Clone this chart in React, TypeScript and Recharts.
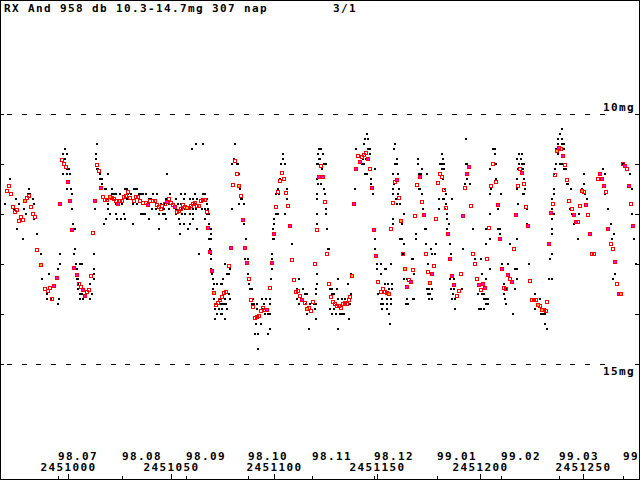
import React from 'react';
import { ScatterChart, Scatter, XAxis, YAxis, ReferenceLine } from 'recharts';

// days are counted from JD 2451000, magnitudes are visual
const JD0 = 2451000;
const X_MIN = -32.86;
const X_MAX = 277.82;
const MAG_TOP = 7.72;
const MAG_BOTTOM = 17.32;
const DASH_END = 261.3;

const JD_TICKS = [0, 50, 100, 150, 200, 250];
const MONTH_TICKS = [-4.5, 26.5, 57.5, 87.5, 118.5, 148.5, 179.5, 210.5, 238.5, 269.5];
const MONTH_LABELS = ['98.07', '98.08', '98.09', '98.10', '98.11', '98.12', '99.01', '99.02', '99.03', '99.04'];
const MAG_TICKS = [10, 11, 12, 13, 14, 15];

const TITLE = 'RX And 958 db 10.3-14.7mg 307 nap';
const PAGE = '3/1';

// single observations (black dots)
const observations: [number, number][] = [
  [-30.6, 11.8], [-28.0, 11.3], [-26.1, 11.9], [-25.1, 11.7], [-24.6, 12.3], [-23.6, 11.8], [-21.7, 12.5], [-21.2, 11.9],
  [-20.2, 12.0], [-18.8, 11.5], [-19.3, 11.6], [-18.3, 11.6], [-16.9, 11.7], [-16.4, 11.8], [-16.4, 12.1], [-14.9, 12.4],
  [-13.0, 12.8], [-12.5, 13.3], [-10.0, 13.6], [-10.0, 13.7], [-9.1, 13.2], [-8.1, 13.7], [-4.7, 13.8], [-4.2, 13.7],
  [-3.7, 12.8], [-3.7, 13.0], [-4.7, 13.1], [-1.3, 10.7], [-2.3, 10.8], [-0.3, 10.8], [-1.3, 10.9], [-0.3, 11.1],
  [0.6, 11.1], [-2.3, 11.2], [-0.3, 11.2], [1.1, 11.2], [-0.3, 11.5], [1.6, 11.5], [2.1, 11.6], [2.1, 11.9],
  [2.6, 12.2], [3.5, 12.3], [3.5, 12.7], [3.1, 12.8], [4.0, 13.0], [6.0, 13.0], [6.9, 13.0], [4.5, 13.1],
  [4.5, 13.3], [5.0, 13.3], [5.0, 13.4], [5.0, 13.5], [6.0, 13.6], [6.9, 13.6], [6.0, 13.7], [7.4, 13.7],
  [10.8, 13.4], [11.8, 13.6], [10.8, 13.7], [12.8, 13.3], [12.8, 13.2], [12.8, 13.1], [12.8, 12.8], [14.2, 10.6],
  [13.7, 10.8], [13.7, 10.9], [14.2, 11.1], [14.7, 11.1], [15.7, 11.2], [15.7, 11.3], [16.7, 11.3], [16.7, 11.4],
  [19.6, 11.2], [18.1, 11.5], [18.6, 11.5], [13.3, 11.9], [19.6, 11.7], [19.6, 11.8], [19.6, 11.9], [20.5, 12.0],
  [18.6, 12.1], [17.6, 12.2], [21.5, 11.5], [21.5, 11.6], [22.5, 11.6], [23.4, 11.6], [25.4, 11.6], [27.8, 11.5],
  [28.8, 11.5], [29.3, 11.6], [30.7, 11.6], [32.2, 11.5], [33.2, 11.5], [33.6, 11.5], [34.6, 11.6], [35.6, 11.6],
  [36.6, 11.6], [38.0, 11.6], [39.5, 11.7], [40.4, 11.7], [41.4, 11.6], [43.4, 11.6], [23.4, 11.8], [26.4, 11.8],
  [28.8, 11.7], [31.7, 11.8], [33.6, 11.8], [40.9, 11.9], [42.9, 11.9], [23.4, 12.0], [27.3, 12.0], [35.6, 12.0],
  [36.6, 12.0], [37.5, 12.0], [44.3, 12.0], [23.9, 12.1], [25.9, 12.1], [27.8, 12.1], [39.5, 12.1], [31.7, 12.2],
  [44.3, 12.3],
  [62.3, 10.6], [65.7, 10.6], [60.3, 10.7], [81.2, 10.6], [48.2, 11.2], [49.7, 11.6], [55.0, 11.6], [56.9, 11.6],
  [61.8, 11.6], [65.7, 11.6], [66.7, 11.6], [47.7, 11.7], [52.6, 11.7], [56.5, 11.7], [59.4, 11.7], [60.8, 11.7],
  [62.8, 11.7], [65.2, 11.7], [67.6, 11.7], [45.3, 11.8], [46.8, 11.8], [49.2, 11.8], [53.6, 11.8], [55.0, 11.8],
  [61.8, 11.8], [67.6, 11.8], [46.8, 11.9], [49.2, 11.9], [52.6, 11.9], [55.5, 11.9], [56.9, 11.9], [59.4, 11.9],
  [60.8, 11.9], [62.3, 11.9], [65.2, 11.9], [66.7, 11.9], [68.1, 11.9], [46.3, 12.0], [47.2, 12.0], [52.6, 12.0],
  [55.5, 12.0], [56.9, 12.0], [59.4, 12.0], [60.8, 12.0], [67.6, 12.0], [68.6, 12.0], [47.7, 12.1], [54.0, 12.1],
  [60.8, 12.1], [66.7, 12.1], [54.5, 12.2], [56.5, 12.2], [59.4, 12.2], [68.6, 12.2], [58.4, 12.3], [62.8, 12.3],
  [69.6, 12.3], [54.5, 12.4], [69.6, 12.4], [68.6, 12.5], [69.6, 12.5], [63.7, 12.8], [69.1, 12.7], [69.6, 12.8],
  [69.6, 12.9], [69.6, 13.1], [70.0, 13.2], [70.5, 13.3], [75.4, 13.3], [71.0, 13.4], [72.5, 13.4], [74.4, 13.4],
  [74.9, 13.4], [70.5, 13.5], [76.4, 13.6], [78.3, 13.6], [71.0, 13.7], [73.9, 13.7], [76.4, 13.7], [78.8, 13.7],
  [72.0, 13.8], [73.9, 13.8], [74.9, 13.8], [75.9, 13.8], [76.9, 13.8], [71.5, 13.9], [73.4, 13.9], [74.9, 13.9],
  [77.4, 13.9], [72.5, 14.0], [74.4, 14.0], [74.9, 14.0], [71.5, 14.1], [76.4, 14.1], [76.4, 13.0], [77.4, 13.2],
  [78.3, 13.2], [78.8, 13.1],
  [80.7, 10.9], [79.8, 11.0], [82.2, 11.0], [82.7, 11.0], [83.2, 11.2], [83.7, 11.5], [84.1, 11.7], [84.6, 11.7],
  [83.2, 11.8], [85.6, 11.8], [79.8, 11.9], [85.6, 12.2], [86.6, 12.5], [86.1, 12.9], [87.5, 12.9], [87.5, 13.2],
  [88.0, 13.4], [88.5, 13.5], [89.5, 13.5], [90.0, 13.7], [89.5, 13.8], [90.4, 13.8], [91.9, 13.8], [94.3, 13.7],
  [96.3, 13.7], [98.2, 13.7], [91.9, 13.9], [94.3, 13.9], [95.3, 13.8], [98.2, 13.8], [95.8, 14.0], [97.2, 14.0],
  [98.2, 14.0], [91.4, 14.2], [93.9, 14.2], [98.2, 14.3], [90.9, 14.4], [92.4, 14.4], [97.2, 14.4], [92.4, 14.7],
  [104.5, 10.8], [104.5, 10.9], [103.5, 11.0], [105.5, 11.0], [103.1, 11.3], [102.1, 11.5], [106.4, 11.5], [101.1, 11.6],
  [102.6, 11.6], [106.4, 11.7], [101.1, 12.0], [102.1, 12.0], [105.5, 12.0], [100.1, 12.1], [100.1, 12.2], [99.7, 12.3],
  [99.7, 12.5], [100.1, 12.5], [99.2, 12.8], [99.2, 12.9], [99.2, 13.1], [98.7, 13.3], [108.9, 12.6],
  [122.0, 10.7], [121.5, 10.8], [122.0, 10.9], [121.0, 11.0], [121.5, 11.0], [121.0, 11.3], [121.5, 11.4], [121.0, 11.6],
  [121.0, 11.7], [121.0, 12.0], [121.0, 12.2], [112.3, 13.3], [111.3, 13.5], [114.2, 13.5], [115.2, 13.6], [116.2, 13.6],
  [111.3, 13.7], [112.3, 13.8], [116.2, 14.0], [120.5, 14.1], [120.0, 13.9], [119.6, 13.8], [120.5, 13.8], [120.5, 13.6],
  [120.5, 13.5], [121.0, 13.4], [121.0, 13.2], [117.1, 14.3], [115.7, 13.8], [117.6, 13.8],
  [145.3, 10.4], [144.3, 10.5], [145.8, 10.5], [143.8, 10.6], [145.8, 10.7], [146.7, 10.7], [140.0, 10.7], [146.7, 10.8],
  [143.4, 10.9], [144.8, 10.9], [143.8, 11.0], [142.9, 11.0], [144.3, 11.2], [145.3, 11.2], [147.2, 11.3], [149.2, 11.1],
  [147.2, 11.4], [148.2, 11.6], [139.5, 11.5], [123.0, 10.7], [123.9, 10.8], [122.5, 10.9], [124.4, 11.0], [125.4, 11.0],
  [123.4, 11.1], [123.0, 11.4], [124.4, 11.5], [124.9, 11.6], [125.4, 11.9], [125.4, 12.0], [125.9, 12.3], [126.4, 12.7],
  [126.8, 12.7], [131.2, 13.3], [127.3, 13.5], [128.3, 13.5], [130.7, 13.5], [128.3, 13.6], [129.3, 13.6], [131.2, 13.7],
  [133.2, 13.7], [134.6, 13.7], [137.5, 13.6], [136.1, 13.4], [137.5, 13.2], [127.3, 13.9], [129.3, 13.9], [128.3, 14.0],
  [130.2, 14.0], [132.2, 14.0], [133.2, 14.0], [134.1, 14.0], [136.6, 14.1], [131.2, 14.3], [137.0, 13.8],
  [158.9, 10.6], [158.4, 10.7], [159.9, 10.9], [158.9, 11.0], [159.9, 11.0], [157.9, 11.2], [160.4, 11.2], [158.4, 11.4],
  [157.9, 11.5], [160.8, 11.5], [157.9, 11.6], [160.4, 11.6], [159.4, 11.7], [159.9, 11.8], [161.3, 11.8], [163.3, 12.0],
  [157.9, 12.1], [157.9, 12.2], [162.3, 12.2], [149.2, 12.5], [149.2, 12.7], [150.1, 13.0], [152.1, 13.0], [150.1, 13.1],
  [154.0, 13.1], [154.5, 13.1], [157.0, 13.0], [152.1, 13.2], [154.0, 13.4], [155.5, 13.4], [157.4, 13.4], [156.0, 13.5],
  [157.4, 13.5], [150.6, 13.6], [152.6, 13.7], [155.0, 13.7], [157.0, 13.7], [152.1, 13.8], [153.1, 13.8], [155.0, 13.8],
  [157.0, 13.8], [152.6, 13.9], [155.0, 13.9], [156.0, 14.0], [156.5, 14.2], [161.3, 12.5], [162.3, 12.5], [163.3, 12.6],
  [162.8, 12.8], [167.1, 12.9], [167.6, 12.9], [163.3, 13.3], [164.7, 13.3], [164.2, 13.8], [165.2, 13.8], [164.7, 13.7],
  [167.6, 13.7], [168.1, 13.7], [168.1, 13.2], [169.1, 12.4], [169.1, 12.5], [170.0, 10.9], [170.0, 11.0], [170.5, 11.2],
  [171.5, 11.2], [172.0, 11.1], [174.4, 11.2], [170.5, 11.5], [171.0, 11.5], [172.0, 11.6], [172.5, 11.9], [173.4, 12.3],
  [173.9, 12.3], [173.9, 12.6], [174.9, 13.0], [174.4, 13.5], [175.4, 13.5], [174.9, 13.6], [175.9, 13.6], [175.4, 13.7],
  [176.8, 13.7], [176.4, 12.7], [176.8, 12.8], [178.8, 12.6], [178.3, 12.8], [176.8, 13.5],
  [181.7, 10.8], [182.2, 10.9], [180.7, 11.0], [181.7, 11.0], [182.7, 11.0], [181.7, 11.1], [182.7, 11.1], [182.2, 11.3],
  [183.2, 11.5], [183.6, 11.6], [182.7, 11.7], [180.2, 11.7], [182.2, 11.7], [183.6, 11.8], [183.2, 11.9], [180.2, 11.9],
  [184.1, 12.0], [184.1, 12.1], [185.1, 12.2], [184.1, 12.3], [185.6, 12.6], [186.1, 12.8], [185.6, 13.3], [187.5, 13.3],
  [186.1, 13.5], [187.5, 13.5], [187.0, 13.6], [188.0, 13.7], [186.6, 13.7], [188.0, 13.9], [186.6, 11.7], [196.8, 12.3],
  [197.7, 12.9], [199.2, 13.6], [199.7, 13.9], [191.4, 13.5], [193.4, 10.5], [193.4, 11.0], [193.8, 11.0], [193.8, 11.3],
  [192.9, 11.4], [195.3, 11.4], [191.9, 12.7],
  [240.0, 10.3], [239.0, 10.4], [238.0, 10.5], [240.0, 10.5], [238.0, 10.6], [240.0, 10.6], [240.9, 10.6], [239.0, 10.7],
  [237.0, 10.7], [240.9, 10.7], [238.0, 10.8], [239.0, 11.0], [240.0, 11.0], [237.0, 11.0], [236.6, 11.1], [240.9, 11.1],
  [241.9, 11.1], [236.1, 11.2], [242.4, 11.4], [242.9, 11.4], [236.1, 11.5], [244.3, 11.5], [236.1, 11.6], [235.1, 11.7],
  [235.1, 11.9], [236.1, 12.0], [235.1, 12.1], [235.1, 12.3], [235.1, 12.4], [235.1, 12.8], [234.1, 12.9], [233.6, 13.3],
  [235.1, 13.3], [243.8, 11.9], [244.8, 12.0], [245.8, 12.2], [247.7, 12.5], [248.2, 12.0], [249.7, 11.5], [250.6, 11.4],
  [251.1, 11.6], [252.1, 11.7], [250.6, 11.2], [226.8, 13.6], [226.8, 13.9], [229.3, 13.7], [229.8, 14.0], [230.7, 14.0],
  [231.7, 14.0], [231.7, 14.2], [232.7, 14.3], [223.9, 13.0], [223.0, 12.2],
  [219.1, 10.8], [220.5, 10.8], [218.1, 10.9], [220.0, 10.9], [219.1, 11.0], [220.5, 11.0], [221.5, 11.0], [218.6, 11.1],
  [221.0, 11.1], [218.1, 11.3], [221.5, 11.3], [218.1, 11.5], [222.0, 11.5], [221.0, 11.6], [221.5, 11.6], [218.6, 11.8],
  [223.0, 11.9], [218.1, 12.5], [214.7, 12.6], [217.1, 13.1], [218.1, 13.1], [218.1, 13.3], [217.1, 13.5], [211.8, 13.4],
  [212.8, 13.5], [211.8, 13.6], [212.3, 13.7], [212.8, 13.8], [210.9, 13.0], [213.8, 13.0], [216.2, 14.0],
  [206.5, 10.7], [207.4, 10.7], [207.4, 10.8], [207.9, 11.0], [205.0, 11.1], [207.9, 11.3], [205.5, 11.5], [205.0, 11.6],
  [210.4, 11.6], [208.9, 11.9], [205.0, 12.0], [203.1, 12.3], [208.9, 12.3], [209.9, 12.3], [209.9, 12.4], [205.0, 12.5],
  [209.4, 12.5], [203.1, 12.6], [200.6, 12.9], [205.0, 13.1], [201.1, 13.2], [203.1, 13.3], [201.1, 13.6], [202.1, 13.6],
  [202.1, 13.7], [203.1, 13.7], [204.0, 13.7], [203.1, 13.8], [204.0, 13.8], [200.6, 13.9], [202.1, 13.9],
  [259.9, 11.1], [260.8, 11.2], [260.8, 11.6], [262.3, 11.9], [263.8, 12.2], [265.2, 12.4], [264.2, 12.5], [265.7, 13.2],
  [264.7, 13.3], [273.0, 11.2], [273.9, 11.5], [273.9, 12.0], [274.9, 12.5], [275.9, 13.0], [269.6, 11.0],
];

// nightly means, plain red boxes
const redMeans: [number, number][] = [
  [-28.5, 11.44], [-29.5, 11.54], [-27.5, 11.6], [-26.6, 11.86], [-24.6, 11.92], [-25.6, 11.96], [-22.7, 12.06], [-23.6, 12.14],
  [-21.7, 12.12], [-19.8, 11.68], [-18.8, 11.64], [-17.8, 11.86], [-16.9, 12.0], [-15.9, 12.06], [-14.9, 12.72], [-11.0, 13.5],
  [-9.6, 13.54], [-8.6, 13.48], [-7.6, 13.7], [-2.8, 10.92], [-1.8, 11.0], [-0.8, 11.06], [5.5, 13.4], [6.5, 13.46],
  [9.4, 13.56], [10.3, 13.52], [11.3, 13.24], [14.2, 11.02], [15.2, 11.14], [12.3, 12.38], [17.1, 11.66], [18.1, 11.72],
  [19.1, 11.72], [21.5, 11.68], [22.5, 11.7], [23.4, 11.74], [25.4, 11.74], [26.4, 11.74], [27.3, 11.66], [28.3, 11.64],
  [29.3, 11.56], [30.2, 11.68], [32.2, 11.74], [33.2, 11.66], [34.1, 11.66], [35.1, 11.74], [36.6, 11.78], [38.0, 11.78],
  [40.0, 11.74], [41.4, 11.74], [42.4, 11.74], [43.4, 11.82], [44.3, 11.86],
  [45.8, 11.84], [45.3, 11.9], [47.2, 11.8], [49.2, 11.7], [50.1, 11.78], [51.1, 11.82], [53.1, 11.96], [54.0, 11.94],
  [55.0, 11.9], [56.0, 11.82], [56.9, 11.86], [58.9, 11.88], [59.9, 11.84], [60.8, 11.8], [61.8, 11.78], [62.8, 11.84],
  [63.7, 11.84], [64.7, 11.74], [65.7, 11.72], [66.7, 11.72], [67.6, 11.96], [73.0, 13.78], [73.9, 13.72], [74.9, 13.66],
  [75.9, 13.58], [76.9, 13.56], [72.0, 13.82], [78.3, 13.04], [80.3, 11.42], [81.2, 10.94], [82.2, 11.2], [84.1, 11.64],
  [88.0, 13.3], [89.0, 13.72], [90.0, 13.86], [90.9, 14.08], [91.9, 14.06], [92.9, 14.04], [93.9, 13.94], [94.8, 13.88],
  [95.8, 13.92], [98.2, 13.48], [101.1, 11.86], [102.1, 11.56], [103.1, 11.34], [104.0, 11.18], [105.0, 11.3], [106.0, 11.58],
  [106.9, 11.84], [108.9, 12.92], [109.9, 13.32], [110.8, 13.56], [111.8, 13.54], [112.8, 13.64], [115.2, 13.78], [117.1, 13.88],
  [118.1, 13.94], [119.1, 13.76], [120.0, 13.0], [121.0, 12.32],
  [140.9, 10.84], [142.9, 10.86], [143.8, 10.82], [144.8, 10.78], [146.7, 11.1], [150.6, 13.36], [153.1, 13.5], [152.1, 13.56],
  [154.0, 13.56], [155.0, 13.58], [126.8, 13.4], [127.8, 13.66], [128.8, 13.76], [129.8, 13.8], [130.7, 13.84], [131.7, 13.84],
  [132.7, 13.88], [133.6, 13.8], [134.6, 13.78], [135.6, 13.8], [136.6, 13.72], [137.0, 13.66], [125.9, 12.8], [124.9, 11.76],
  [123.0, 11.04], [157.9, 11.78], [158.9, 11.36], [160.8, 11.68], [157.0, 12.3], [162.8, 12.8], [165.7, 13.32], [167.6, 13.12],
  [168.6, 12.04], [169.6, 11.42], [172.0, 11.76], [173.9, 12.8], [174.9, 13.16], [177.8, 13.04], [178.8, 12.1], [179.8, 11.38],
  [180.7, 11.2], [181.7, 11.26], [182.7, 11.52], [183.6, 11.88], [189.0, 13.64], [190.0, 13.54], [190.9, 13.2], [192.9, 11.48],
  [195.8, 11.84], [196.8, 12.8], [197.7, 13.0], [198.7, 13.3],
  [206.5, 11.0], [205.5, 11.44], [207.9, 11.36], [204.5, 12.28], [216.6, 12.7], [203.5, 12.9], [214.7, 13.3], [211.8, 13.48],
  [212.8, 13.5], [200.6, 13.52], [219.6, 11.1], [221.5, 11.4], [218.6, 11.44], [222.5, 11.86], [224.4, 13.34], [225.4, 13.72],
  [226.3, 13.72], [227.3, 13.72], [229.3, 13.84], [231.2, 13.92], [232.2, 13.94], [232.7, 13.76], [235.6, 11.8], [236.6, 11.22],
  [239.5, 10.7], [241.4, 11.02], [242.4, 11.32], [243.4, 11.74], [244.8, 11.9], [247.7, 12.16], [248.7, 11.84], [250.6, 11.56],
  [252.6, 12.02], [254.5, 12.8], [255.5, 12.8], [257.4, 11.3], [261.3, 11.56], [263.8, 12.6], [264.7, 12.7], [266.7, 13.4],
  [269.6, 11.0], [271.5, 11.1], [273.4, 11.8],
];

// nightly means with magenta centre
const magentaMeans: [number, number][] = [
  [-6.7, 13.44], [-5.2, 13.28], [0.1, 11.36], [-3.7, 11.8], [1.1, 11.74], [2.1, 12.32], [3.1, 13.08], [4.5, 13.22],
  [7.4, 13.52], [8.4, 13.64], [16.2, 11.48], [13.3, 11.74], [24.4, 11.8], [39.0, 11.82], [48.2, 11.76], [52.1, 11.86],
  [68.1, 12.28], [69.1, 12.76], [70.0, 13.14], [79.3, 12.68], [85.1, 12.12], [86.1, 12.68], [87.1, 12.98], [96.8, 13.92],
  [99.2, 12.98], [100.1, 12.4], [107.9, 12.24], [113.7, 13.72], [122.0, 11.26], [145.8, 10.9], [141.9, 10.96], [140.0, 11.1],
  [147.7, 11.48], [139.0, 11.8], [148.7, 12.32], [149.7, 12.84], [123.9, 11.26], [159.9, 11.32], [164.7, 13.46], [166.7, 13.36],
  [171.0, 11.26], [173.0, 12.02], [176.8, 13.2], [184.6, 12.4], [185.6, 12.9], [186.6, 13.24], [187.5, 13.42], [191.9, 12.04],
  [193.8, 11.2], [194.8, 11.06], [199.7, 13.42], [208.9, 11.82], [209.9, 12.5], [210.9, 13.1], [213.8, 13.22], [215.7, 13.36],
  [202.6, 13.48], [201.6, 13.4], [220.5, 11.18], [217.6, 12.02], [223.4, 12.24], [233.6, 12.6], [234.6, 11.98], [238.5, 10.68],
  [240.4, 10.84], [245.8, 12.02], [246.7, 12.16], [251.6, 11.82], [253.5, 12.4], [258.4, 11.2], [259.4, 11.3], [260.3, 11.44],
  [262.3, 12.3], [265.7, 12.96], [267.6, 13.6], [270.5, 11.04], [272.5, 11.44], [274.4, 12.24],
];

// nightly means with orange centre
const orangeMeans: [number, number][] = [
  [-20.7, 11.74], [-13.0, 13.02], [20.5, 11.66], [57.9, 11.88], [71.0, 13.58], [83.2, 11.44], [116.2, 13.9], [156.0, 13.6],
  [138.0, 13.24], [161.8, 12.14], [163.8, 13.1], [175.9, 13.38], [228.3, 13.82], [230.2, 13.92], [237.5, 10.74], [249.7, 11.54],
  [268.6, 13.6],
];

const toRows = (list: [number, number][]) => list.map(([d, mag]) => ({ d, mag }));

const FONT: React.CSSProperties = {
  fontFamily: '"DejaVu Sans Mono", monospace',
  fontWeight: 700,
  fontSize: 11,
  letterSpacing: 1.38,
};

const Dot = (props: any) => {
  const { cx, cy } = props;
  if (cx == null || cy == null) return null;
  return <rect x={Math.round(cx) - 1} y={Math.round(cy) - 1} width={2} height={2} fill="#000" shapeRendering="crispEdges" />;
};

const makeBox = (fill: string) => (props: any) => {
  const { cx, cy } = props;
  if (cx == null || cy == null) return null;
  return (
    <rect
      x={Math.round(cx) - 1.5}
      y={Math.round(cy) - 1.5}
      width={3}
      height={3}
      fill={fill}
      stroke="#ff0000"
      strokeWidth={1}
      shapeRendering="crispEdges"
    />
  );
};

const JdTick = (props: any) => {
  const { x, payload } = props;
  const px = Math.round(x) + 0.5;
  return (
    <g>
      <line x1={px} x2={px} y1={474} y2={480} stroke="#000" shapeRendering="crispEdges" />
      <text x={x + 0.7} y={471} textAnchor="middle" fill="#000" style={FONT}>
        {String(JD0 + payload.value)}
      </text>
    </g>
  );
};

const MonthTick = (props: any) => {
  const { x, payload } = props;
  const px = Math.round(x) + 0.5;
  return (
    <g>
      <line x1={px} x2={px} y1={476} y2={480} stroke="#000" shapeRendering="crispEdges" />
      <text x={Math.round(x)} y={460} fill="#000" style={FONT}>
        {MONTH_LABELS[MONTH_TICKS.indexOf(payload.value)]}
      </text>
    </g>
  );
};

const LeftTick = (props: any) => {
  const py = Math.round(props.y) + 0.5;
  return <line x1={0} x2={4} y1={py} y2={py} stroke="#000" shapeRendering="crispEdges" />;
};

const RightTick = (props: any) => {
  const { y, payload } = props;
  const py = Math.round(y) + 0.5;
  return (
    <g>
      <line x1={635} x2={640} y1={py} y2={py} stroke="#000" shapeRendering="crispEdges" />
      {payload.value === 10 && (
        <text x={603} y={Math.round(y) - 3} fill="#000" style={FONT}>10mg</text>
      )}
      {payload.value === 15 && (
        <text x={603} y={Math.round(y) + 11} fill="#000" style={FONT}>15mg</text>
      )}
    </g>
  );
};

export default function App() {
  return (
    <div style={{ position: 'absolute', left: 0, top: 0, width: 640, height: 480, background: '#fff', overflow: 'hidden' }}>
      <ScatterChart width={640} height={480} margin={{ top: 0, right: 0, bottom: 0, left: 0 }}>
        <XAxis
          xAxisId="jd"
          type="number"
          dataKey="d"
          domain={[X_MIN, X_MAX]}
          allowDataOverflow
          mirror
          height={30}
          ticks={JD_TICKS}
          interval={0}
          axisLine={false}
          tickLine={false}
          tick={<JdTick />}
        />
        <XAxis
          xAxisId="month"
          type="number"
          dataKey="d"
          domain={[X_MIN, X_MAX]}
          allowDataOverflow
          mirror
          height={30}
          ticks={MONTH_TICKS}
          interval={0}
          axisLine={false}
          tickLine={false}
          tick={<MonthTick />}
        />
        <YAxis
          yAxisId="left"
          type="number"
          dataKey="mag"
          domain={[MAG_TOP, MAG_BOTTOM]}
          reversed
          allowDataOverflow
          mirror
          width={30}
          ticks={MAG_TICKS}
          interval={0}
          axisLine={false}
          tickLine={false}
          tick={<LeftTick />}
        />
        <YAxis
          yAxisId="right"
          orientation="right"
          type="number"
          dataKey="mag"
          domain={[MAG_TOP, MAG_BOTTOM]}
          reversed
          allowDataOverflow
          mirror
          width={30}
          ticks={MAG_TICKS}
          interval={0}
          axisLine={false}
          tickLine={false}
          tick={<RightTick />}
        />
        <ReferenceLine
          xAxisId="jd"
          yAxisId="left"
          segment={[{ x: X_MIN, y: 10 }, { x: DASH_END, y: 10 }]}
          stroke="#000"
          strokeDasharray="5 9.83"
          strokeDashoffset={8}
          shapeRendering="crispEdges"
        />
        <ReferenceLine
          xAxisId="jd"
          yAxisId="left"
          segment={[{ x: X_MIN, y: 15 }, { x: DASH_END, y: 15 }]}
          stroke="#000"
          strokeDasharray="5 9.83"
          strokeDashoffset={8}
          shapeRendering="crispEdges"
        />
        <Scatter xAxisId="jd" yAxisId="left" data={toRows(observations)} shape={Dot} isAnimationActive={false} />
        <Scatter xAxisId="jd" yAxisId="left" data={toRows(redMeans)} shape={makeBox('none')} isAnimationActive={false} />
        <Scatter xAxisId="jd" yAxisId="left" data={toRows(magentaMeans)} shape={makeBox('#ff00ff')} isAnimationActive={false} />
        <Scatter xAxisId="jd" yAxisId="left" data={toRows(orangeMeans)} shape={makeBox('#ffb000')} isAnimationActive={false} />
      </ScatterChart>
      <svg width={640} height={480} style={{ position: 'absolute', left: 0, top: 0, pointerEvents: 'none' }}>
        <text x={4} y={12} fill="#000" style={FONT}>{TITLE}</text>
        <text x={333} y={12} fill="#000" style={FONT}>{PAGE}</text>
        <rect x={0.5} y={0.5} width={639} height={479} fill="none" stroke="#000" shapeRendering="crispEdges" />
      </svg>
    </div>
  );
}
